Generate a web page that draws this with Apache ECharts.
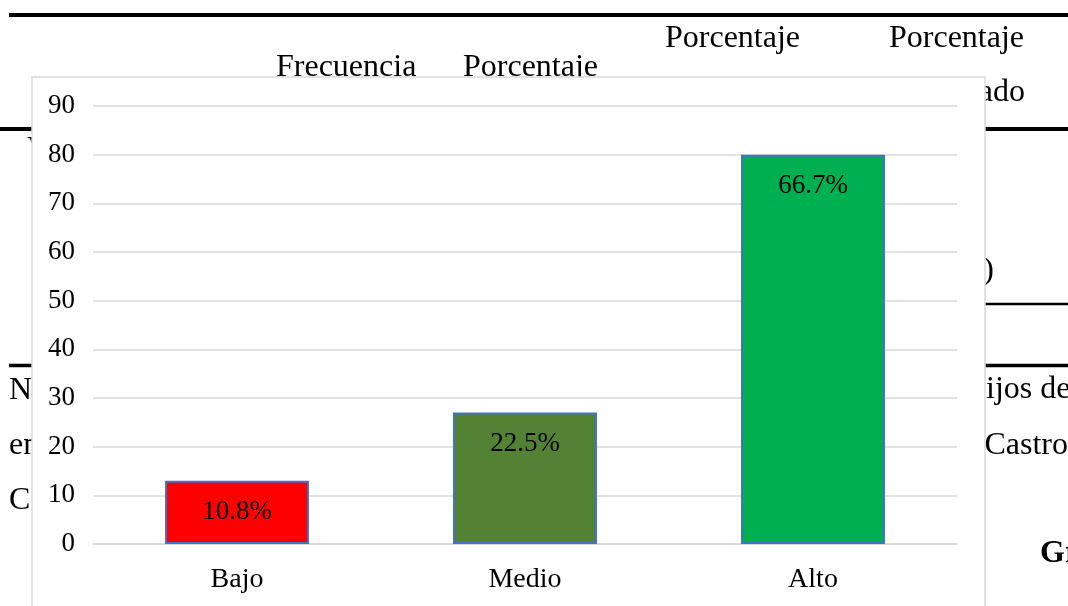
<!DOCTYPE html>
<html>
<head>
<meta charset="utf-8">
<script src="https://cdn.jsdelivr.net/npm/echarts@6/dist/echarts.min.js"></script>
<style>
  html, body { margin: 0; padding: 0; background: #ffffff; }
  #chart { width: 1068px; height: 606px; }
</style>
</head>
<body>
<div id="chart"></div>
<script>
// Niveles y frecuencias
const categories = ['Bajo', 'Medio', 'Alto'];
const frecuencias = [13, 27, 80];
const yTicks = { min: 0, max: 90, interval: 10 };

const total = frecuencias.reduce((a, b) => a + b, 0);
const SERIF = '"Liberation Serif", "Times New Roman", serif';
const barColors = ['#ff0000', '#548235', '#00b050'];

// Page text and table rules that sit behind the chart frame
function docText(text, x, y, opts) {
  return {
    type: 'text', z: -20, x: x, y: y,
    style: Object.assign({
      text: text, fill: '#000', font: '32px ' + SERIF,
      textAlign: 'left', textVerticalAlign: 'middle'
    }, opts || {})
  };
}
function rule(x1, x2, y, w) {
  return { type: 'rect', z: -20, shape: { x: x1, y: y - w / 2, width: x2 - x1, height: w }, style: { fill: '#000' } };
}

const pageElements = [
  rule(9, 1068, 15, 4),
  rule(0, 1068, 129, 4),
  rule(300, 1068, 304, 2.5),
  rule(9, 1068, 365.5, 3.5),
  docText('Frecuencia', 276, 68),
  docText('Porcentaje', 463, 68),
  docText('Porcentaje', 665, 39),
  docText('Porcentaje', 889, 39),
  docText('acumulado', 1025, 93, { textAlign: 'right' }),
  docText('V', 27, 150),
  docText('100)', 994, 271, { textAlign: 'right' }),
  docText('N', 9, 391),
  docText('en', 9, 446),
  docText('C', 9, 501),
  docText('hijos de', 970, 390),
  docText('Castro', 1068, 446, { textAlign: 'right' }),
  docText('Gráfico', 1040, 554, { font: 'bold 32px ' + SERIF }),
  // chart frame
  {
    type: 'rect', z: -10,
    shape: { x: 32, y: 77, width: 953, height: 600 },
    style: { fill: '#ffffff', stroke: '#d9d9d9', lineWidth: 1.5 }
  }
];

const chart = echarts.init(document.getElementById('chart'), null, { renderer: 'canvas' });
chart.setOption({
  animation: false,
  backgroundColor: '#ffffff',
  graphic: { elements: pageElements },
  grid: { left: 93, right: 111, top: 106, bottom: 62, containLabel: false },
  xAxis: {
    type: 'category',
    data: categories,
    axisLine: { show: true, lineStyle: { color: '#d9d9d9', width: 1.5 } },
    axisTick: { show: false },
    axisLabel: { color: '#000', fontFamily: SERIF, fontSize: 28, margin: 22 }
  },
  yAxis: {
    type: 'value',
    min: yTicks.min, max: yTicks.max, interval: yTicks.interval,
    axisLine: { show: false },
    axisTick: { show: false },
    splitLine: { lineStyle: { color: '#d9d9d9', width: 1.5 } },
    axisLabel: { color: '#000', fontFamily: SERIF, fontSize: 27, margin: 18, padding: [3, 0, 0, 0] }
  },
  series: [{
    type: 'bar',
    data: frecuencias.map((v, i) => ({ value: v, itemStyle: { color: barColors[i] } })),
    barWidth: '50%',
    itemStyle: { borderColor: '#4472c4', borderWidth: 2 },
    label: {
      show: true,
      position: 'insideTop',
      distance: 18,
      color: '#000',
      fontFamily: SERIF,
      fontSize: 27,
      formatter: p => (p.value / total * 100).toFixed(1) + '%'
    }
  }]
});
</script>
</body>
</html>
